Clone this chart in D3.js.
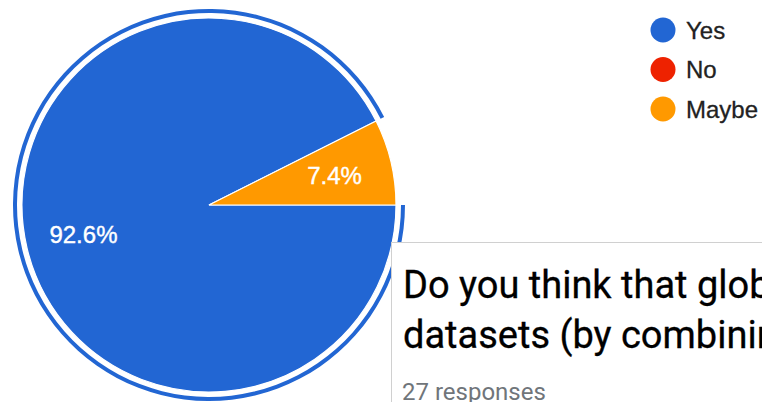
<!DOCTYPE html>
<html>
<head>
<meta charset="utf-8">
<script src="https://cdn.jsdelivr.net/npm/d3@7"></script>
<style>
  html, body { margin: 0; padding: 0; background: #fff; overflow: hidden; }
  svg { display: block; }
</style>
</head>
<body>
<svg id="chart" width="762" height="402"></svg>
<script>
// Survey answers and response counts
const categories = ["Yes", "No", "Maybe"];
const counts = [25, 0, 2];
const colors = ["#2266d3", "#ee2200", "#ff9900"];
const titleLines = ["Do you think that global", "datasets (by combining"];
const responsesLabel = "27 responses";

const svg = d3.select("#chart");
const cx = 209, cy = 205, R = 187;
const labelFont = "'Liberation Sans', Arial, sans-serif";

const data = categories.map((c, i) => ({ name: c, value: counts[i], color: colors[i] }));
const total = d3.sum(counts);

// Pie starts at three o'clock and runs clockwise
const pie = d3.pie().sort(null).value(d => d.value)
  .startAngle(Math.PI / 2).endAngle(Math.PI / 2 + 2 * Math.PI);
const arcs = pie(data);

const arc = d3.arc().innerRadius(0).outerRadius(R);
const labelArc = d3.arc().innerRadius(R * 0.69).outerRadius(R * 0.69);
const ringArc = d3.arc().innerRadius(R + 5).outerRadius(R + 9);

const g = svg.append("g").attr("transform", `translate(${cx},${cy})`);

g.selectAll("path.slice")
  .data(arcs.filter(d => d.value > 0))
  .join("path")
  .attr("class", "slice")
  .attr("d", arc)
  .attr("fill", d => d.data.color)
  .attr("stroke", "#fff")
  .attr("stroke-width", 1.2);

// Highlight ring around the focused (largest) slice
const focused = arcs[0];
g.append("path")
  .attr("d", ringArc({ startAngle: focused.startAngle, endAngle: focused.endAngle }))
  .attr("fill", colors[0]);

// Percentage labels
const fmt = d3.format(".1f");
g.selectAll("text.pct")
  .data(arcs.filter(d => d.value > 0))
  .join("text")
  .attr("class", "pct")
  .attr("x", d => labelArc.centroid(d)[0])
  .attr("y", d => labelArc.centroid(d)[1])
  .attr("dy", "0.36em")
  .attr("text-anchor", "middle")
  .attr("fill", "#fff")
  .attr("stroke", "#fff")
  .attr("stroke-width", 0.4)
  .style("font-family", labelFont)
  .style("font-size", "24px")
  .text(d => fmt(d.value / total * 100) + "%");

// Legend
const legendY = d3.scalePoint().domain(categories).range([30, 109]);
const legend = svg.append("g");
const item = legend.selectAll("g").data(data).join("g")
  .attr("transform", d => `translate(663,${legendY(d.name)})`);
item.append("circle").attr("r", 12.5).attr("fill", d => d.color);
item.append("text")
  .attr("x", 23)
  .attr("dy", "0.36em")
  .attr("fill", "#222")
  .attr("stroke", "#222")
  .attr("stroke-width", 0.3)
  .style("font-family", labelFont)
  .style("font-size", "24px")
  .text(d => d.name);

// Question card overlapping the lower right
const card = svg.append("g");
card.append("rect")
  .attr("x", 391.5).attr("y", 242.5)
  .attr("width", 420).attr("height", 200)
  .attr("fill", "#fff")
  .attr("stroke", "#d0d0d0")
  .attr("stroke-width", 1);
card.selectAll("text.title").data(titleLines).join("text")
  .attr("class", "title")
  .attr("x", 403)
  .attr("y", (d, i) => 298 + i * 50)
  .attr("fill", "#000")
  .attr("stroke", "#000")
  .attr("stroke-width", 0.3)
  .style("font-family", "Roboto, sans-serif")
  .style("font-size", "38px")
  .text(d => d);
card.append("text")
  .attr("x", 402)
  .attr("y", 400)
  .attr("fill", "#70757a")
  .style("font-family", "Roboto, sans-serif")
  .style("font-size", "24px")
  .text(responsesLabel);
</script>
</body>
</html>
